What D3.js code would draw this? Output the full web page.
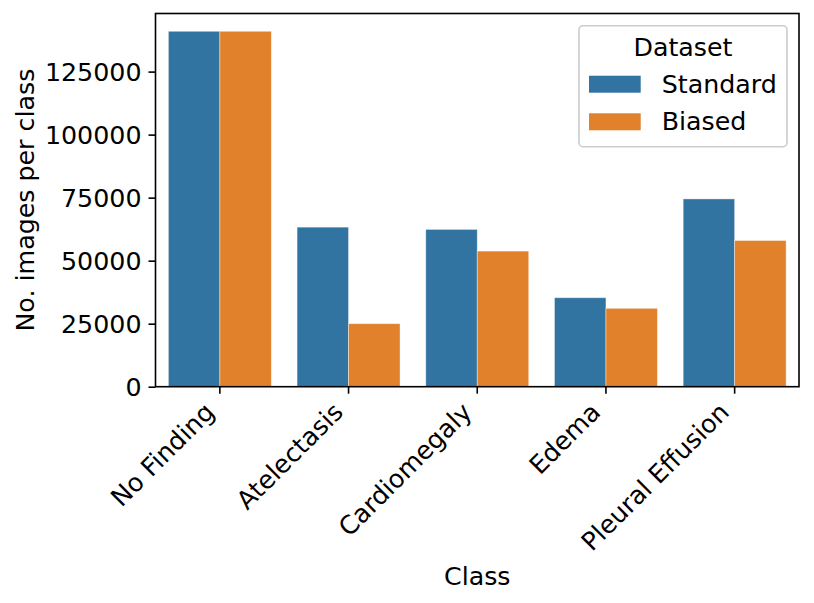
<!DOCTYPE html>
<html>
<head>
<meta charset="utf-8">
<script src="https://cdn.jsdelivr.net/npm/d3@7"></script>
<style>
  body { margin: 0; background: #fff; }
  text { font-family: "DejaVu Sans", sans-serif; fill: #000; }
</style>
</head>
<body>
<svg id="chart" width="814" height="603"></svg>
<script>
const categories = ["No Finding", "Atelectasis", "Cardiomegaly", "Edema", "Pleural Effusion"];
const seriesNames = ["Standard", "Biased"];
const standardValues = [141000, 63300, 62400, 35300, 74500];
const biasedValues = [141000, 25000, 53800, 31100, 58000];
const yTicks = [0, 25000, 50000, 75000, 100000, 125000];
const colors = ["#3274a1", "#e1812c"];

const svg = d3.select("#chart");
const pLeft = 155.5, pRight = 799, pTop = 13.5, pBottom = 386.7;
const fs = 25.3;

const x = d3.scaleBand().domain(categories).range([pLeft, pRight]).paddingInner(0).paddingOuter(0);
const xSub = d3.scaleBand().domain(seriesNames).range([0, x.bandwidth()]).paddingInner(0).paddingOuter(0.25);
const yMax = d3.max([...standardValues, ...biasedValues]) * 1.05;
const y = d3.scaleLinear().domain([0, yMax]).range([pBottom, pTop]);

const data = categories.map((c, i) => ({ cat: c, vals: [standardValues[i], biasedValues[i]] }));

const g = svg.append("g");
data.forEach(d => {
  d.vals.forEach((v, j) => {
    g.append("rect")
      .attr("x", x(d.cat) + xSub(seriesNames[j]))
      .attr("y", y(v))
      .attr("width", xSub.bandwidth())
      .attr("height", y(0) - y(v))
      .attr("fill", colors[j])
      .attr("stroke", "#ffffff")
      .attr("stroke-opacity", 0.5)
      .attr("stroke-width", 0.8);
  });
});

// Y axis
const yAxis = d3.axisLeft(y).tickValues(yTicks).tickSize(7).tickPadding(7).tickFormat(d3.format("d"));
const ya = svg.append("g").attr("transform", `translate(${pLeft},0)`).call(yAxis);
ya.select(".domain").remove();
ya.selectAll(".tick line").attr("stroke", "#000").attr("stroke-width", 1.6);
ya.selectAll(".tick text").style("font-size", fs + "px").attr("dy", "0.36em");

// X axis
const xAxis = d3.axisBottom(x).tickSize(7).tickPadding(7);
const xa = svg.append("g").attr("transform", `translate(0,${pBottom})`).call(xAxis);
xa.select(".domain").remove();
xa.selectAll(".tick line").attr("stroke", "#000").attr("stroke-width", 1.6);
xa.selectAll(".tick text")
  .style("font-size", fs + "px")
  .attr("text-anchor", "end")
  .attr("dy", null)
  .attr("y", 0)
  .attr("transform", "translate(-4,27) rotate(-45)");

// Frame
svg.append("rect").attr("x", pLeft).attr("y", pTop).attr("width", pRight - pLeft).attr("height", pBottom - pTop)
  .attr("fill", "none").attr("stroke", "#000").attr("stroke-width", 1.6);

// Axis labels
svg.append("text").attr("x", (pLeft + pRight) / 2).attr("y", 585).attr("text-anchor", "middle")
  .style("font-size", fs + "px").text("Class");
svg.append("text").attr("transform", `translate(34,${(pTop + pBottom) / 2}) rotate(-90)`).attr("text-anchor", "middle")
  .style("font-size", fs + "px").text("No. images per class");

// Legend
const lg = svg.append("g");
lg.append("rect").attr("x", 579).attr("y", 25.7).attr("width", 208).attr("height", 121).attr("rx", 4)
  .attr("fill", "#fff").attr("fill-opacity", 0.8).attr("stroke", "#cccccc").attr("stroke-width", 1.6);
lg.append("text").attr("x", 683).attr("y", 56).attr("text-anchor", "middle").style("font-size", fs + "px").text("Dataset");
seriesNames.forEach((s, i) => {
  const yy = 75.7 + i * 37.6;
  lg.append("rect").attr("x", 589).attr("y", yy).attr("width", 51.7).attr("height", 17).attr("fill", colors[i]);
  lg.append("text").attr("x", 661.7).attr("y", yy + 17).style("font-size", fs + "px").text(s);
});
</script>
</body>
</html>
